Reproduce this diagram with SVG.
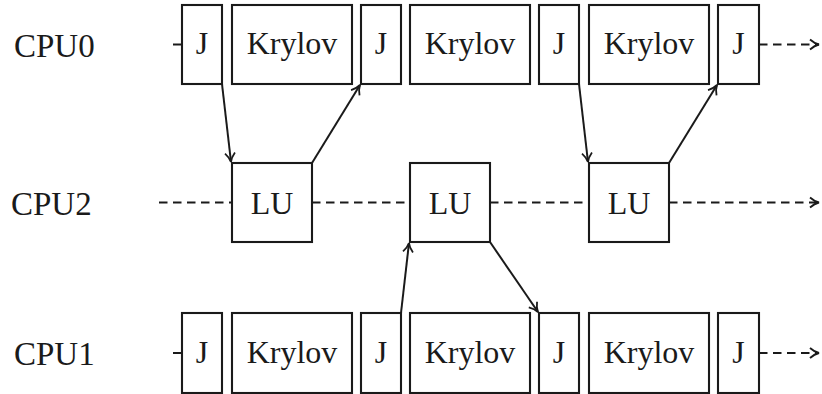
<svg xmlns="http://www.w3.org/2000/svg" width="822" height="394" viewBox="0 0 822 394">
<defs>
<style>
.box{fill:#fff;stroke:#1a1a1a;stroke-width:2.1}
.t{font-family:'Liberation Serif','DejaVu Serif',serif;font-size:32px;fill:#1a1a1a;text-anchor:middle}
.lbl{font-family:'Liberation Serif','DejaVu Serif',serif;font-size:33px;fill:#1a1a1a}
.c{fill:none;stroke:#1a1a1a;stroke-width:2}
.d{fill:none;stroke:#1a1a1a;stroke-width:2;stroke-dasharray:8.5 5.5}
</style>
<marker id="ah" viewBox="0 0 14 14" refX="12" refY="7" markerWidth="14" markerHeight="14" markerUnits="userSpaceOnUse" orient="auto">
<path d="M3,2 Q7.5,6 12,7 Q7.5,8 3,12" fill="none" stroke="#1a1a1a" stroke-width="1.8"/>
</marker>
</defs>
<text class="lbl" x="14" y="57">CPU0</text>
<text class="lbl" x="11" y="215">CPU2</text>
<text class="lbl" x="14" y="365">CPU1</text>
<g id="connectors">
<line class="c" x1="173" y1="44.5" x2="182" y2="44.5"/>
<line class="d" x1="759" y1="44.5" x2="819" y2="44.5" marker-end="url(#ah)"/>
<line class="c" x1="173" y1="353" x2="182" y2="353"/>
<line class="d" x1="759" y1="353" x2="819" y2="353" marker-end="url(#ah)"/>
<line class="d" x1="159" y1="202.5" x2="232" y2="202.5"/>
<line class="d" x1="312" y1="202.5" x2="410" y2="202.5"/>
<line class="d" x1="490" y1="202.5" x2="589" y2="202.5"/>
<line class="d" x1="669" y1="202.5" x2="819" y2="202.5" marker-end="url(#ah)"/>
<line class="c" x1="222" y1="84" x2="231" y2="162" marker-end="url(#ah)"/>
<line class="c" x1="312" y1="163" x2="360" y2="85" marker-end="url(#ah)"/>
<line class="c" x1="579" y1="84" x2="588" y2="162" marker-end="url(#ah)"/>
<line class="c" x1="669" y1="163" x2="717" y2="85" marker-end="url(#ah)"/>
<line class="c" x1="401" y1="313" x2="409" y2="243" marker-end="url(#ah)"/>
<line class="c" x1="490" y1="242" x2="538" y2="312" marker-end="url(#ah)"/>
</g>
<g id="cpu0-j1"><rect class="box" x="182" y="5" width="40" height="79"/><text class="t" x="202" y="54">J</text></g>
<g id="cpu0-k1"><rect class="box" x="232" y="5" width="120" height="79"/><text class="t" x="292" y="54">Krylov</text></g>
<g id="cpu0-j2"><rect class="box" x="361" y="5" width="40" height="79"/><text class="t" x="381" y="54">J</text></g>
<g id="cpu0-k2"><rect class="box" x="410" y="5" width="120" height="79"/><text class="t" x="470" y="54">Krylov</text></g>
<g id="cpu0-j3"><rect class="box" x="539" y="5" width="40" height="79"/><text class="t" x="559" y="54">J</text></g>
<g id="cpu0-k3"><rect class="box" x="589" y="5" width="120" height="79"/><text class="t" x="649" y="54">Krylov</text></g>
<g id="cpu0-j4"><rect class="box" x="718" y="5" width="41" height="79"/><text class="t" x="738.5" y="54">J</text></g>
<g id="cpu2-lu1"><rect class="box" x="232" y="163" width="80" height="79"/><text class="t" x="272" y="214">LU</text></g>
<g id="cpu2-lu2"><rect class="box" x="410" y="163" width="80" height="79"/><text class="t" x="450" y="214">LU</text></g>
<g id="cpu2-lu3"><rect class="box" x="589" y="163" width="80" height="79"/><text class="t" x="629" y="214">LU</text></g>
<g id="cpu1-j1"><rect class="box" x="182" y="313" width="40" height="80"/><text class="t" x="202" y="363">J</text></g>
<g id="cpu1-k1"><rect class="box" x="232" y="313" width="120" height="80"/><text class="t" x="292" y="363">Krylov</text></g>
<g id="cpu1-j2"><rect class="box" x="361" y="313" width="40" height="80"/><text class="t" x="381" y="363">J</text></g>
<g id="cpu1-k2"><rect class="box" x="410" y="313" width="120" height="80"/><text class="t" x="470" y="363">Krylov</text></g>
<g id="cpu1-j3"><rect class="box" x="539" y="313" width="40" height="80"/><text class="t" x="559" y="363">J</text></g>
<g id="cpu1-k3"><rect class="box" x="589" y="313" width="120" height="80"/><text class="t" x="649" y="363">Krylov</text></g>
<g id="cpu1-j4"><rect class="box" x="718" y="313" width="41" height="80"/><text class="t" x="738.5" y="363">J</text></g>
</svg>
